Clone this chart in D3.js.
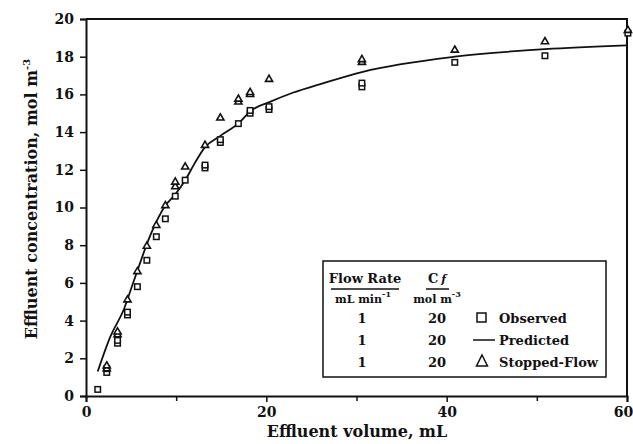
<!DOCTYPE html>
<html>
<head>
<meta charset="utf-8">
<script src="https://cdn.jsdelivr.net/npm/d3@7"></script>
<style>
  body { margin: 0; background: #fff; }
  svg text { font-family: "DejaVu Serif", "Liberation Serif", serif; font-weight: bold; fill: #111; }
</style>
</head>
<body>
<div id="chart"></div>
<script>
// data
var observedV = [1.3, 2.3, 2.3, 3.5, 3.5, 4.6, 4.6, 5.7, 6.75, 7.8, 8.8, 9.9, 11.0, 13.2, 13.2, 14.9, 14.9, 16.9, 18.2, 18.2, 20.3, 20.3, 30.6, 30.6, 40.9, 50.9, 60.1];
var observedC = [0.35, 1.25, 1.45, 2.8, 2.95, 4.3, 4.45, 5.8, 7.2, 8.45, 9.4, 10.6, 11.45, 12.1, 12.25, 13.45, 13.6, 14.45, 15.0, 15.15, 15.2, 15.35, 16.4, 16.6, 17.7, 18.05, 19.25];

var stoppedV = [2.3, 2.3, 3.5, 3.5, 4.6, 5.7, 6.75, 7.8, 8.8, 9.9, 9.9, 11.0, 13.2, 14.9, 16.9, 16.9, 18.2, 18.2, 20.3, 30.6, 30.6, 40.9, 50.9, 60.1];
var stoppedC = [1.45, 1.6, 3.25, 3.4, 5.1, 6.6, 7.95, 9.05, 10.1, 11.1, 11.35, 12.15, 13.3, 14.75, 15.6, 15.75, 16.0, 16.1, 16.8, 17.7, 17.85, 18.35, 18.8, 19.4];

var predictedV = [1.3, 2.7, 4.2, 5.3, 7.2, 8.8, 9.9, 11.0, 12.0, 13.2, 14.9, 17.0, 18.2, 20.4, 23, 26, 30.7, 40.9, 50.9, 60];
var predictedC = [1.3, 3.15, 4.6, 6.1, 8.6, 10.1, 10.7, 11.45, 12.3, 13.2, 13.8, 14.5, 15.1, 15.6, 16.1, 16.55, 17.2, 18.0, 18.4, 18.6];

var xTicks = [0, 20, 40, 60];
var xMinor = [10, 30, 50];
var yTicks = [0, 2, 4, 6, 8, 10, 12, 14, 16, 18, 20];

var legendRows = [
  {flow: "1", conc: "20", label: "Observed", sym: "square"},
  {flow: "1", conc: "20", label: "Predicted", sym: "line"},
  {flow: "1", conc: "20", label: "Stopped-Flow", sym: "triangle"}
];

var W = 633, H = 444;
var margin = {top: 19, right: 6, bottom: 48, left: 86};
var width = W - margin.left - margin.right,
    height = H - margin.top - margin.bottom;

var svg = d3.select("#chart").append("svg")
    .attr("width", W).attr("height", H);

var g = svg.append("g")
    .attr("transform", "translate(" + margin.left + "," + margin.top + ")");

var x = d3.scaleLinear().domain([0, 60]).range([0, width]);
var y = d3.scaleLinear().domain([0, 20]).range([height, 0]);

// frame (top + right)
g.append("path")
    .attr("d", "M0,0H" + width + "V" + height)
    .attr("fill", "none").attr("stroke", "#111").attr("stroke-width", 2);

// x axis
g.append("g")
    .attr("transform", "translate(0," + height + ")")
    .call(d3.axisBottom(x).tickValues(xTicks).tickSize(6).tickPadding(5))
    .selectAll(".tick text")
    .attr("dx", function(d) { return d === 60 ? -4 : 0; });
g.append("g")
    .attr("transform", "translate(0," + height + ")")
    .call(d3.axisBottom(x).tickValues(xMinor).tickSize(5).tickFormat(""))
    .select(".domain").remove();

// y axis
g.append("g")
    .call(d3.axisLeft(y).tickValues(yTicks).tickSize(6).tickPadding(6));

g.selectAll(".domain").attr("stroke", "#111").attr("stroke-width", 2);
g.selectAll(".tick line").attr("stroke", "#111").attr("stroke-width", 1.5);
g.selectAll(".tick text").attr("font-size", 14).attr("fill", "#111")
    .attr("font-family", "DejaVu Serif, serif").attr("font-weight", "bold");

// axis titles
svg.append("text")
    .attr("x", 357).attr("y", 437)
    .attr("text-anchor", "middle").attr("font-size", 16)
    .text("Effluent volume, mL");

var yt = svg.append("text")
    .attr("transform", "translate(37,199) rotate(-90)")
    .attr("text-anchor", "middle").attr("font-size", 16);
yt.append("tspan").text("Effluent concentration, mol m");
yt.append("tspan").attr("dy", -7).attr("font-size", 10).text("-3");

// predicted curve
var pts = predictedV.map(function(v, i) { return [v, predictedC[i]]; });
g.append("path")
    .datum(pts)
    .attr("fill", "none").attr("stroke", "#111").attr("stroke-width", 1.8)
    .attr("d", d3.line().x(function(d) { return x(d[0]); }).y(function(d) { return y(d[1]); })
      .curve(d3.curveMonotoneX));

// observed squares
var sq = 5.5;
g.selectAll(".obs")
    .data(observedV.map(function(v, i) { return [v, observedC[i]]; }))
  .enter().append("rect")
    .attr("class", "obs")
    .attr("x", function(d) { return x(d[0]) - sq / 2; })
    .attr("y", function(d) { return y(d[1]) - sq / 2; })
    .attr("width", sq).attr("height", sq)
    .attr("fill", "#fff").attr("stroke", "#111").attr("stroke-width", 1.5);

// stopped-flow triangles
var tri = d3.symbol().type(d3.symbolTriangle).size(22);
g.selectAll(".stop")
    .data(stoppedV.map(function(v, i) { return [v, stoppedC[i]]; }))
  .enter().append("path")
    .attr("class", "stop")
    .attr("transform", function(d) { return "translate(" + x(d[0]) + "," + y(d[1]) + ")"; })
    .attr("d", tri)
    .attr("fill", "#fff").attr("stroke", "#111").attr("stroke-width", 1.6);

// legend
var lg = svg.append("g").attr("transform", "translate(323,261)");
lg.append("rect")
    .attr("width", 283).attr("height", 116)
    .attr("fill", "#fff").attr("stroke", "#111").attr("stroke-width", 1.5);

lg.append("text").attr("x", 42).attr("y", 22).attr("text-anchor", "middle")
    .attr("font-size", 13).text("Flow Rate");
lg.append("line").attr("x1", 8).attr("x2", 76).attr("y1", 28).attr("y2", 28)
    .attr("stroke", "#111").attr("stroke-width", 1.5);
var cf = lg.append("text").attr("x", 114).attr("y", 22).attr("text-anchor", "middle")
    .attr("font-size", 13);
cf.append("tspan").text("C");
cf.append("tspan").attr("dx", 3).attr("font-size", 11).attr("font-style", "italic").text("f");
lg.append("line").attr("x1", 103).attr("x2", 126).attr("y1", 28).attr("y2", 28)
    .attr("stroke", "#111").attr("stroke-width", 1.5);

var u1 = lg.append("text").attr("x", 40).attr("y", 42).attr("text-anchor", "middle").attr("font-size", 11);
u1.append("tspan").text("mL min");
u1.append("tspan").attr("dy", -6).attr("font-size", 8).text("-1");
var u2 = lg.append("text").attr("x", 114).attr("y", 42).attr("text-anchor", "middle").attr("font-size", 11);
u2.append("tspan").text("mol m");
u2.append("tspan").attr("dy", -6).attr("font-size", 8).text("-3");

var row = lg.selectAll(".row").data(legendRows).enter().append("g")
    .attr("transform", function(d, i) { return "translate(0," + (62 + i * 22) + ")"; });
row.append("text").attr("x", 39).attr("text-anchor", "middle").attr("font-size", 13)
    .text(function(d) { return d.flow; });
row.append("text").attr("x", 114).attr("text-anchor", "middle").attr("font-size", 13)
    .text(function(d) { return d.conc; });
row.append("text").attr("x", 176).attr("font-size", 13)
    .text(function(d) { return d.label; });
row.each(function(d) {
  var r = d3.select(this);
  if (d.sym === "square") {
    r.append("rect").attr("x", 154).attr("y", -10).attr("width", 9).attr("height", 9)
      .attr("fill", "none").attr("stroke", "#111").attr("stroke-width", 1.5);
  } else if (d.sym === "line") {
    r.append("line").attr("x1", 150).attr("x2", 172).attr("y1", -5).attr("y2", -5)
      .attr("stroke", "#111").attr("stroke-width", 1.5);
  } else {
    r.append("path").attr("d", "M159,-12L164.5,-1L153.5,-1Z")
      .attr("fill", "none").attr("stroke", "#111").attr("stroke-width", 1.5);
  }
});
</script>
</body>
</html>
